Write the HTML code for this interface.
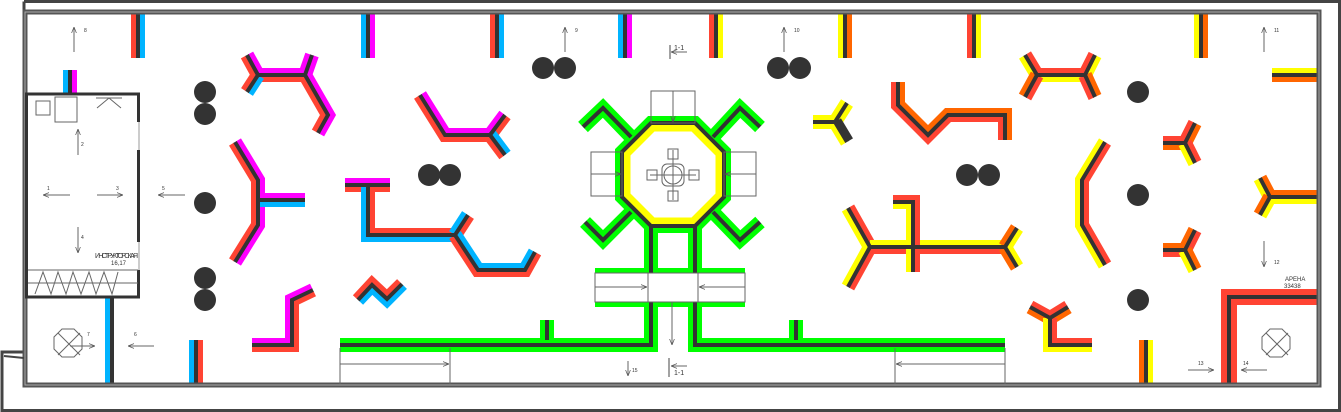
<!DOCTYPE html>
<html><head><meta charset="utf-8"><style>
html,body{margin:0;padding:0;background:#fff;width:1341px;height:412px;overflow:hidden}
svg{display:block}
text{font-family:"Liberation Sans","Noto Sans CJK SC",sans-serif;fill:#333}
</style></head><body>
<svg id="s" width="1341" height="412" viewBox="0 0 1341 412" xmlns="http://www.w3.org/2000/svg">
<defs><marker id="ah" viewBox="0 0 10 10" refX="10" refY="5" markerWidth="6" markerHeight="6" orient="auto" markerUnits="userSpaceOnUse"><polyline points="0,1 10,5 0,9" fill="none" stroke="#555" stroke-width="1.2"/></marker></defs>
<g id="walls"></g>
<g fill="none" stroke="#444">
 <polyline points="24,1.5 1339.5,1.5 1339.5,410.5 2,410.5 2,352 24,352 24,1.5" stroke-width="3"/>
 <rect x="25" y="12" width="1294" height="373" stroke-width="5" stroke="#555"/>
 <rect x="25" y="12" width="1294" height="373" stroke-width="1" stroke="#aaa"/>
 <polyline points="4,356 24,358" stroke-width="2"/>
 <rect x="26.5" y="94" width="112" height="203" stroke-width="3" stroke="#333"/>
 <line x1="139" y1="122" x2="139" y2="150" stroke="#fff" stroke-width="4"/>
 <line x1="139" y1="122" x2="139" y2="150" stroke="#999" stroke-width="1"/>
 <line x1="139" y1="242" x2="139" y2="270" stroke="#fff" stroke-width="4"/>
 <line x1="139" y1="242" x2="139" y2="270" stroke="#999" stroke-width="1"/>
 <g stroke="#666" stroke-width="1">
  <rect x="36" y="101" width="14" height="14"/><rect x="55" y="97" width="22" height="25"/>
  <polyline points="97,108 109,98 121,108"/><line x1="96" y1="98" x2="122" y2="98"/>
  <line x1="28" y1="270" x2="138" y2="270"/><line x1="28" y1="283" x2="138" y2="283"/>
  <polyline points="35,294 43,272 51,294 58,272 66,294 73,272 81,294 89,272 96,294 104,272 112,294 118,272"/>
  <polygon points="62,329 74,329 82,337 82,349 74,357 62,357 54,349 54,337"/>
  <line x1="58" y1="333" x2="80" y2="355"/><line x1="80" y1="333" x2="58" y2="355"/>
  <polygon points="1270,329 1282,329 1290,337 1290,349 1282,357 1270,357 1262,349 1262,337"/>
  <line x1="1266" y1="333" x2="1288" y2="355"/><line x1="1288" y1="333" x2="1266" y2="355"/>
  <rect x="651" y="91" width="44" height="32"/>
  <rect x="591" y="152" width="31" height="44"/>
  <rect x="724" y="152" width="32" height="44"/>
  <rect x="595" y="273" width="150" height="29" fill="#fff"/><rect x="648" y="273" width="50" height="29"/>
  <line x1="672" y1="302" x2="672" y2="345" marker-end="url(#ah)"/>
  <line x1="340" y1="348" x2="340" y2="384"/><line x1="450" y1="348" x2="450" y2="384"/>
  <line x1="895" y1="348" x2="895" y2="384"/><line x1="1005" y1="348" x2="1005" y2="384"/>
  <circle cx="673" cy="175" r="9"/><rect x="662" y="164" width="22" height="22" rx="5"/>
  <line x1="650" y1="175" x2="696" y2="175"/><line x1="673" y1="150" x2="673" y2="200"/>
  <rect x="668" y="149" width="10" height="10"/><rect x="668" y="191" width="10" height="10"/>
  <rect x="647" y="170" width="10" height="10"/><rect x="689" y="170" width="10" height="10"/>
 </g>
 <g stroke="#666" stroke-width="1" marker-end="url(#ah)">
  <line x1="673" y1="91" x2="673" y2="122"/>
  <line x1="591" y1="174" x2="621" y2="174"/><line x1="756" y1="174" x2="725" y2="174"/>
  <line x1="595" y1="287" x2="647" y2="287"/><line x1="745" y1="287" x2="699" y2="287"/>
  <line x1="340" y1="364" x2="449" y2="364"/><line x1="1005" y1="364" x2="896" y2="364"/>
  <line x1="74" y1="52" x2="74" y2="27"/><line x1="78" y1="155" x2="78" y2="129"/>
  <line x1="70" y1="195" x2="43" y2="195"/><line x1="97" y1="195" x2="123" y2="195"/>
  <line x1="78" y1="227" x2="78" y2="253"/><line x1="185" y1="195" x2="158" y2="195"/>
  <line x1="154" y1="346" x2="128" y2="346"/><line x1="70" y1="346" x2="95" y2="346"/>
  <line x1="565" y1="52" x2="565" y2="27"/><line x1="784" y1="52" x2="784" y2="27"/>
  <line x1="1264" y1="52" x2="1264" y2="27"/><line x1="1264" y1="241" x2="1264" y2="267"/>
  <line x1="628" y1="361" x2="628" y2="376"/><line x1="1188" y1="370" x2="1214" y2="370"/>
  <line x1="1267" y1="370" x2="1241" y2="370"/>
  <line x1="687" y1="52" x2="671" y2="52"/><line x1="687" y1="366" x2="671" y2="366"/>
 </g>
 <g stroke="#444" stroke-width="1">
  <line x1="670" y1="45" x2="670" y2="59"/><line x1="669" y1="358" x2="669" y2="377"/>
 </g>
</g>
<g fill="#333">
 <circle cx="205" cy="92" r="11"/><circle cx="205" cy="114" r="11"/><circle cx="205" cy="203" r="11"/>
 <circle cx="205" cy="278" r="11"/><circle cx="205" cy="300" r="11"/>
 <circle cx="543" cy="68" r="11"/><circle cx="565" cy="68" r="11"/>
 <circle cx="429" cy="175" r="11"/><circle cx="450" cy="175" r="11"/>
 <circle cx="778" cy="68" r="11"/><circle cx="800" cy="68" r="11"/>
 <circle cx="967" cy="175" r="11"/><circle cx="989" cy="175" r="11"/>
 <circle cx="1138" cy="92" r="11"/><circle cx="1138" cy="195" r="11"/><circle cx="1138" cy="300" r="11"/>
</g>
<g font-size="5">
 <text x="84" y="32">8</text><text x="81" y="146">2</text><text x="47" y="190">1</text><text x="116" y="190">3</text>
 <text x="81" y="239">4</text><text x="162" y="190">5</text><text x="87" y="336">7</text><text x="134" y="336">6</text>
 <text x="575" y="32">9</text><text x="794" y="32">10</text><text x="1274" y="32">11</text><text x="1274" y="264">12</text>
 <text x="632" y="372">15</text><text x="1198" y="365">13</text><text x="1243" y="365">14</text>
</g>
<g font-size="7">
 <text x="674" y="50">1-1</text><text x="674" y="375">1-1</text>
 <text x="95" y="258" font-size="7" textLength="43">ИНСТРУКТОРСКАЯ</text><text x="111" y="265" font-size="6">16,17</text>
 <text x="1285" y="281" font-size="6">АРЕНА</text><text x="1284" y="288" font-size="6">33438</text>
</g>
</svg>
<script>
var R='#ff4433',B='#00b4ff',M='#ff00ff',Y='#ffff00',O='#ff6600',G='#00ff00',K='#333';
function off(p,d){var r=[];for(var i=0;i<p.length;i++){
 function nrm(a,b){var dx=b[0]-a[0],dy=b[1]-a[1],l=Math.hypot(dx,dy);return[-dy/l,dx/l];}
 var n1=i>0?nrm(p[i-1],p[i]):null,n2=i<p.length-1?nrm(p[i],p[i+1]):null;
 if(n1&&n2){var mx=n1[0]+n2[0],my=n1[1]+n2[1],l=Math.hypot(mx,my);mx/=l;my/=l;var dt=mx*n1[0]+my*n1[1];r.push([p[i][0]+mx*d/dt,p[i][1]+my*d/dt]);}
 else{var q=n1||n2;r.push([p[i][0]+q[0]*d,p[i][1]+q[1]*d]);}}return r;}
var g=document.getElementById('walls'),out='';
function pl(p,c,w){out+='<polyline fill="none" stroke-linejoin="miter" stroke-linecap="butt" stroke="'+c+'" stroke-width="'+w+'" points="'+p.map(function(a){return a[0].toFixed(1)+','+a[1].toFixed(1)}).join(' ')+'"/>';}
var list=[];
function W(p,a,b,h){list.push([p,a,b,h||4]);}
W([[138,14],[138,58]],B,R);W([[368,14],[368,58]],M,B);W([[497,14],[497,58]],B,R);W([[625,14],[625,58]],M,B);
W([[716,14],[716,58]],Y,R);W([[845,14],[845,58]],O,Y);W([[974,14],[974,58]],Y,R);W([[1201,14],[1201,58]],O,Y);
W([[70,70],[70,93]],M,B);W([[1318,75],[1272,75]],O,Y);
W([[196,384],[196,340]],B,R);W([[1146,384],[1146,340]],O,Y);W([[112,298],[112,384]],'#fff',B);
W([[1229,384],[1229,297],[1318,297]],R,R,5);
W([[247,55],[258,75],[305,75],[328,115],[318,133]],M,R);W([[247,92],[258,75]],R,B);W([[305,75],[312,55]],M,M);
W([[235,142],[258,180],[258,225],[235,262]],M,R);W([[258,200],[305,200]],M,B);
W([[420,95],[445,135],[490,135],[505,115]],M,R);W([[490,135],[505,155]],B,R);
W([[345,185],[390,185]],M,R);W([[368,185],[368,235],[455,235]],R,B);W([[455,235],[468,215]],B,R);
W([[455,235],[478,270],[525,270],[535,252]],B,R);
W([[358,300],[372,285],[387,299],[402,284]],R,B);
W([[252,345],[292,345],[292,300],[313,290]],M,R);
W([[813,122],[835,122],[847,103]],Y,Y);W([[835,122],[847,142]],K,Y);
W([[898,82],[898,105],[928,135],[948,115],[1005,115],[1005,140]],O,R);
W([[848,208],[870,247],[848,287]],R,Y);W([[870,247],[1005,247]],Y,R);W([[1005,247],[1017,228]],O,Y);W([[1005,247],[1017,267]],Y,O);
W([[893,202],[913,202],[913,272]],R,Y);
W([[1025,55],[1037,75],[1085,75],[1095,55]],R,Y);W([[1025,97],[1037,75]],O,R);W([[1085,75],[1095,97]],O,R);
W([[1105,142],[1082,180],[1082,225],[1105,265]],R,Y);
W([[1163,143],[1185,143],[1195,123]],R,O);W([[1185,143],[1195,163]],R,Y);
W([[1163,250],[1185,250],[1195,230]],O,R);W([[1185,250],[1195,270]],O,Y);
W([[1318,197],[1270,197],[1260,178]],Y,O);W([[1270,197],[1260,215]],Y,O);
W([[1030,307],[1050,318],[1068,307]],R,O);W([[1050,318],[1050,345],[1092,345]],R,Y);
W([[340,345],[651,345],[651,226]],G,G);W([[695,226],[695,345],[1005,345]],G,G);
W([[547,320],[547,340]],G,G);W([[796,320],[796,340]],G,G);
W([[631,137],[603,108],[583,127]],G,G);W([[713,137],[740,108],[760,127]],G,G);
W([[631,212],[603,240],[585,222]],G,G);W([[713,212],[740,240],[760,222]],G,G);
list.forEach(function(w){pl(off(w[0],-w[3]),w[1],6);pl(off(w[0],w[3]),w[2],6);});
out+='<rect x="595" y="268" width="150" height="5" fill="'+G+'"/><rect x="595" y="302" width="150" height="5" fill="'+G+'"/>';
var oc=[[651,123],[695,123],[724,152],[724,197],[695,226],[651,226],[622,197],[622,152]];
function P(a){return a.map(function(x){return x.join(',')}).join(' ');}
out+='<polygon points="'+P(oc)+'" fill="#fff" stroke="'+G+'" stroke-width="14"/>';
var inn=[[653,128],[693,128],[719,154],[719,195],[693,221],[653,221],[627,195],[627,154]];
out+='<polygon points="'+P(inn)+'" fill="#fff" stroke="'+Y+'" stroke-width="7"/>';
out+='<polygon points="'+P(oc)+'" fill="none" stroke="'+K+'" stroke-width="4"/>';
list.forEach(function(w){pl(w[0],K,4);});
g.innerHTML=out;
</script>
</body></html>
